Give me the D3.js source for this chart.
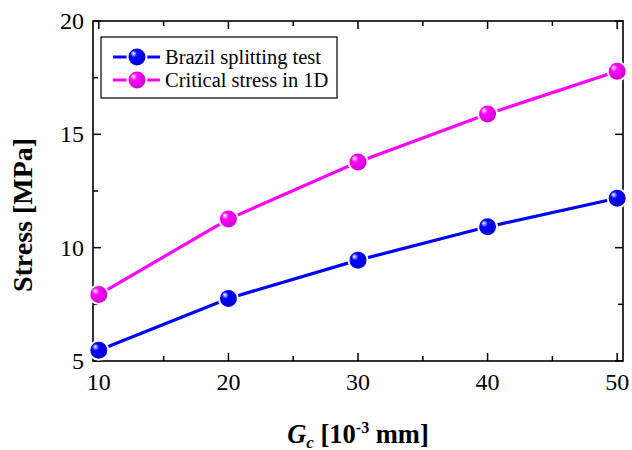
<!DOCTYPE html>
<html><head><meta charset="utf-8">
<script src="https://cdn.jsdelivr.net/npm/d3@7"></script>
<style>body{margin:0;background:#fff}svg{display:block}svg text{font-family:"Liberation Serif",serif}</style>
</head><body>
<script>
const gcValues = [10, 20, 30, 40, 50];
const brazilStress = [5.47, 7.76, 9.45, 10.92, 12.18];
const criticalStress = [7.93, 11.26, 13.78, 15.9, 17.78];
const seriesNames = ["Brazil splitting test", "Critical stress in 1D"];
const seriesColors = ["#0000ff", "#ff00ff"];
const xTicks = [10, 20, 30, 40, 50];
const yTicks = [5, 10, 15, 20];

const W = 632, H = 450;
const svg = d3.select("body").append("svg").attr("width", W).attr("height", H);
const L = 93, R = 623, T = 21, B = 361;
const x = d3.scaleLinear().domain([9.55, 50.45]).range([L, R]);
const y = d3.scaleLinear().domain([5, 20]).range([B, T]);

const defs = svg.append("defs");
seriesColors.forEach((c, i) => {
  const g = defs.append("radialGradient").attr("id", "sph" + i)
    .attr("cx", "42%").attr("cy", "42%").attr("r", "62%").attr("fx", "30%").attr("fy", "30%");
  g.append("stop").attr("offset", "0%").attr("stop-color", "#ffffff");
  g.append("stop").attr("offset", "30%").attr("stop-color", c);
  g.append("stop").attr("offset", "100%").attr("stop-color", d3.color(c).darker(0.7));
});

const ax = svg.append("g").attr("stroke", "#000").attr("fill", "none");
const xMinor = d3.range(10, 50.1, 5);
const yMinor = d3.range(5, 20.1, 2.5);
ax.append("rect").attr("x", L).attr("y", T).attr("width", R - L).attr("height", B - T).attr("stroke-width", 1.6);
xMinor.forEach(v => {
  const len = (v % 10 === 0) ? 8 : 5;
  ax.append("line").attr("x1", x(v)).attr("x2", x(v)).attr("y1", B).attr("y2", B - len).attr("stroke-width", 1.5);
  ax.append("line").attr("x1", x(v)).attr("x2", x(v)).attr("y1", T).attr("y2", T + len).attr("stroke-width", 1.5);
});
yMinor.forEach(v => {
  const len = (v % 5 === 0) ? 8 : 5;
  ax.append("line").attr("y1", y(v)).attr("y2", y(v)).attr("x1", L).attr("x2", L + len).attr("stroke-width", 1.5);
  ax.append("line").attr("y1", y(v)).attr("y2", y(v)).attr("x1", R).attr("x2", R - len).attr("stroke-width", 1.5);
});
svg.selectAll(".xt").data(xTicks).enter().append("text")
  .attr("x", d => x(d)).attr("y", 390).attr("text-anchor", "middle")
  .attr("font-size", 24).text(d => d);
svg.selectAll(".yt").data(yTicks).enter().append("text")
  .attr("x", 84).attr("y", d => y(d) + 8).attr("text-anchor", "end")
  .attr("font-size", 24).text(d => d);

svg.append("text").attr("transform", "translate(32,215) rotate(-90)").attr("text-anchor", "middle")
  .attr("font-size", 28).attr("font-weight", "bold").text("Stress [MPa]");
const xt = svg.append("text").attr("x", 358).attr("y", 443).attr("text-anchor", "middle")
  .attr("font-size", 26.5).attr("font-weight", "bold");
xt.append("tspan").attr("font-style", "italic").text("G");
xt.append("tspan").attr("font-style", "italic").attr("font-size", 17).attr("dy", 5).text("c");
xt.append("tspan").attr("dy", -5).text(" [10");
xt.append("tspan").attr("font-size", 16).attr("dy", -10).text("-3");
xt.append("tspan").attr("dy", 10).text(" mm]");

const allSeries = [brazilStress, criticalStress];
const line = d3.line().x((d, i) => x(gcValues[i])).y(d => y(d));
allSeries.forEach((s, i) => {
  svg.append("path").datum(s).attr("d", line).attr("fill", "none")
    .attr("stroke", seriesColors[i]).attr("stroke-width", 3.2);
  svg.selectAll(".m" + i).data(s).enter().append("circle")
    .attr("cx", (d, j) => x(gcValues[j])).attr("cy", d => y(d)).attr("r", 9.5)
    .attr("fill", `url(#sph${i})`).attr("stroke", "#fff").attr("stroke-width", 2);
});

const lg = svg.append("g");
lg.append("rect").attr("x", 101).attr("y", 37).attr("width", 236).attr("height", 61)
  .attr("fill", "#fff").attr("stroke", "#000").attr("stroke-width", 1.2);
seriesNames.forEach((n, i) => {
  const yy = 57 + i * 23;
  lg.append("line").attr("x1", 113).attr("x2", 160).attr("y1", yy).attr("y2", yy)
    .attr("stroke", seriesColors[i]).attr("stroke-width", 3.2);
  lg.append("circle").attr("cx", 137).attr("cy", yy).attr("r", 9.5)
    .attr("fill", `url(#sph${i})`).attr("stroke", "#fff").attr("stroke-width", 2);
  lg.append("text").attr("x", 165).attr("y", yy + 6.5)
    .attr("font-size", 20.5).text(n);
});
</script>
</body></html>
